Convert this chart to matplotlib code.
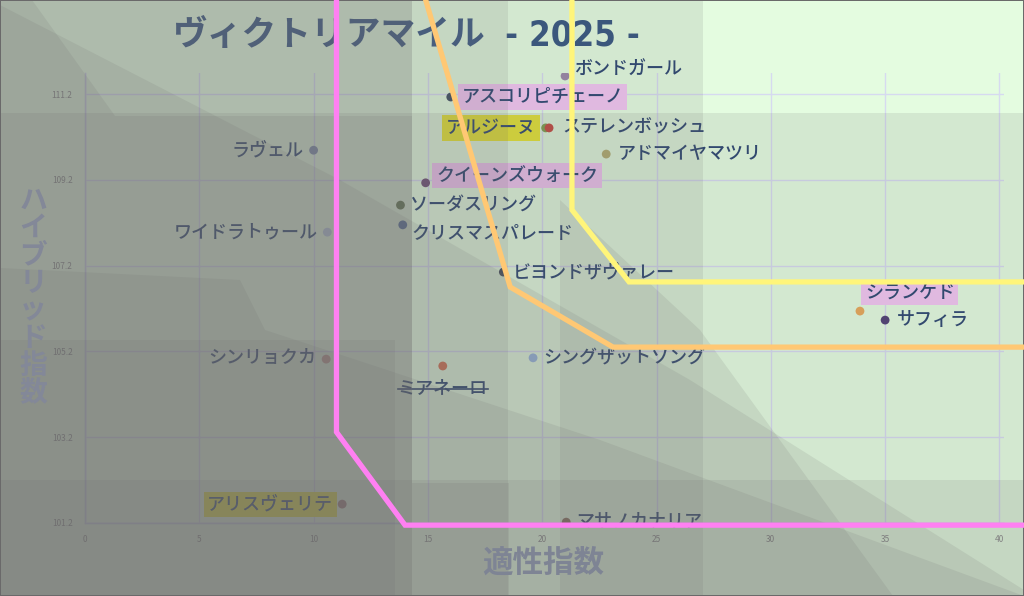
import matplotlib
matplotlib.use('Agg')
import matplotlib.pyplot as plt
from matplotlib.patches import Polygon
from matplotlib.lines import Line2D

plt.rcParams['font.family'] = ['Noto Sans CJK JP', 'DejaVu Sans']

# ---------------- data ----------------
horses = ['ボンドガール', 'アスコリピチェーノ', 'アルジーヌ', 'ステレンボッシュ', 'アドマイヤマツリ',
          'ラヴェル', 'クイーンズウォーク', 'ソーダスリング', 'クリスマスパレード', 'ワイドラトゥール',
          'ビヨンドザヴァレー', 'シンリョクカ', 'ミアネーロ', 'シングザットソング', 'シランケド',
          'サフィラ', 'アリスヴェリテ', 'マサノカナリア']
aptitude = [21.0, 16.0, 20.15, 20.3, 22.8, 10.0, 14.9, 13.8, 13.9, 10.6,
            18.3, 10.55, 15.65, 19.6, 33.9, 35.0, 11.25, 21.05]
hybrid = [111.62, 111.13, 110.41, 110.41, 109.8, 109.89, 109.13, 108.61, 108.15, 107.98,
          107.05, 105.02, 104.86, 105.05, 106.14, 105.93, 101.64, 101.22]
dot_colors = ['#9A86A8', '#3E4E60', '#7FA04C', '#C8463C', '#B4B070', '#7E90B0', '#6E4E74',
              '#64784E', '#5270A0', '#B8C8E0', '#3E4858', '#C89890', '#D87050', '#98B8E0',
              '#E8A858', '#4E3E74', '#A07878', '#8A6A58']
label_bg = [None, '#F2C6F2', '#EEEE30', None, None, None, '#F2C6F2', None, None, None,
            None, None, None, None, '#F2C6F2', None, '#EEEE30', None]
struck = ['ミアネーロ']

xticks = [0, 5, 10, 15, 20, 25, 30, 35, 40]
yticks = [101.2, 103.2, 105.2, 107.2, 109.2, 111.2]
ytick_labels = ['101.2', '103.2', '105.2', '107.2', '109.2', '111.2']

pink_x = [11.0, 11.0, 14.0, 42.0]
pink_y = [113.5, 103.32, 101.15, 101.15]
orange_x = [14.87, 18.6, 23.1, 42.0]
orange_y = [113.45, 106.7, 105.3, 105.3]
yellow_x = [21.3, 21.3, 23.8, 42.0]
yellow_y = [113.5, 108.5, 106.82, 106.82]

title_main = 'ヴィクトリアマイル'
title_year = '- 2025 -'
xlabel = '適性指数'
ylabel = 'ハイブリッド指数'

# ---------------- styling ----------------
W, H = 1024, 596
fig = plt.figure(figsize=(W / 100, H / 100), dpi=100, facecolor='#E4FCE0',
                 edgecolor='#6A6A6A', linewidth=1.2)

def fx(px):
    return px / W

def fy(py):
    return 1 - py / H

ax = fig.add_axes([fx(85), fy(523), fx(1004) - fx(85), fy(73) - fy(523)])
ax.set_facecolor('none')
ax.set_xlim(0, 40.2)
ax.set_ylim(101.2, 111.69)
ax.set_xticks(xticks)
ax.set_xticklabels([str(v) for v in xticks])
ax.set_yticks(yticks)
ax.set_yticklabels(ytick_labels)
ax.tick_params(length=0, labelsize=6, colors='#8A8A8A', pad=9)
ax.grid(True, color='#D6DAF0', linewidth=1)
for s in ['top', 'right']:
    ax.spines[s].set_visible(False)
for s in ['left', 'bottom']:
    ax.spines[s].set_color('#CACEE6')
    ax.spines[s].set_linewidth(1)

ax.scatter(aptitude, hybrid, s=40, c=dot_colors, zorder=3, edgecolors='none')

# label offsets (points) and alignment
offsets = {
    'ボンドガール': (6.5, 4.5, 'left'),
    'アスコリピチェーノ': (8, 0, 'left'),
    'アルジーヌ': (-7, 0, 'right'),
    'ステレンボッシュ': (9.5, 0, 'left'),
    'アドマイヤマツリ': (8.5, 0, 'left'),
    'ラヴェル': (-7, 0, 'right'),
    'クイーンズウォーク': (7.5, 5, 'left'),
    'ソーダスリング': (7, 0, 'left'),
    'クリスマスパレード': (6.5, -6.5, 'left'),
    'ワイドラトゥール': (-7, 0, 'right'),
    'ビヨンドザヴァレー': (7, 0, 'left'),
    'シンリョクカ': (-7, 0.5, 'right'),
    'ミアネーロ': (0, -16, 'center'),
    'シングザットソング': (7, 0.5, 'left'),
    'シランケド': (3.5, 13.5, 'left'),
    'サフィラ': (8.5, 0, 'left'),
    'アリスヴェリテ': (-6.5, 0, 'right'),
    'マサノカナリア': (7, 1, 'left'),
}
texts = {}
for name, x, y, bg in zip(horses, aptitude, hybrid, label_bg):
    dx, dy, ha = offsets[name]
    kw = {}
    if bg is not None:
        kw['bbox'] = dict(boxstyle='square,pad=0.2', facecolor=bg, edgecolor='none')
    t = ax.annotate(name, (x, y), xytext=(dx, dy), textcoords='offset points',
                    ha=ha, va='center', fontsize=13, fontweight='medium',
                    color='#2A4570', zorder=4, **kw)
    texts[name] = t

# title (under the shading layers)
fig.text(fx(173), fy(35), title_main, fontsize=25, fontweight='bold', color='#3E5C84',
         ha='left', va='center', zorder=1)
fig.text(fx(505), fy(35), title_year, fontsize=25, fontweight='bold', color='#34557F',
         ha='left', va='center', zorder=1, family='DejaVu Sans', fontstretch='condensed')

# strike through
fig.canvas.draw()
rend = fig.canvas.get_renderer()
for name in struck:
    bb = texts[name].get_window_extent(rend)
    ymid = (bb.y0 + bb.y1) / 2 - 1
    fig.add_artist(Line2D([bb.x0 / W, bb.x1 / W], [ymid / H, ymid / H],
                          transform=fig.transFigure, color='#2A4570', linewidth=1.2, zorder=1))

# shading layers on top (decorative)
shade = (0.42, 0.41, 0.42)
layers = [
    [(0, 0), (703, 0), (703, 596), (0, 596)],
    [(0, 113), (1024, 113), (1024, 596), (0, 596)],
    [(0, 0), (508, 0), (508, 596), (0, 596)],
    [(0, 0), (412, 0), (412, 596), (0, 596)],
    [(0, 0), (412, 0), (412, 596), (0, 596)],
    [(0, 480), (1024, 480), (1024, 596), (0, 596)],
    [(0, 0), (32, 0), (115, 116), (412, 116), (412, 596), (0, 596)],
    [(0, 5), (340, 180), (690, 380), (1024, 590), (1024, 596), (0, 596)],
    [(0, 268), (240, 280), (265, 330), (600, 440), (1024, 596), (0, 596)],
    [(0, 340), (395, 340), (395, 596), (0, 596)],
    [(412, 483), (509, 483), (509, 596), (412, 596)],
    [(560, 200), (700, 330), (893, 596), (560, 596)],
]
for poly in layers:
    pts = [(fx(x), fy(y)) for x, y in poly]
    fig.add_artist(Polygon(pts, closed=True, transform=fig.transFigure,
                           facecolor=shade, alpha=0.135, edgecolor='none', zorder=2))

# zone lines on top
ax2 = fig.add_axes(ax.get_position(), zorder=3)
ax2.set_xlim(ax.get_xlim())
ax2.set_ylim(ax.get_ylim())
ax2.axis('off')
ax2.patch.set_visible(False)
ax2.plot(pink_x, pink_y, color='#FF80F2', linewidth=3.8, clip_on=False, solid_joinstyle='miter')
ax2.plot(orange_x, orange_y, color='#FFC874', linewidth=3.8, clip_on=False, solid_joinstyle='miter')
ax2.plot(yellow_x, yellow_y, color='#FFF57A', linewidth=3.8, clip_on=False, solid_joinstyle='miter')

# axis titles
fig.text(fx(543), fy(563), xlabel, fontsize=22, fontweight='bold', color='#7E8494',
         ha='center', va='center', zorder=4)
fig.text(fx(33), fy(297), '\n'.join(ylabel), fontsize=20, fontweight='bold', color='#838898',
         ha='center', va='center', linespacing=0.98, zorder=4)

fig.savefig('out.png', dpi=100, facecolor=fig.get_facecolor(), edgecolor=fig.get_edgecolor())
